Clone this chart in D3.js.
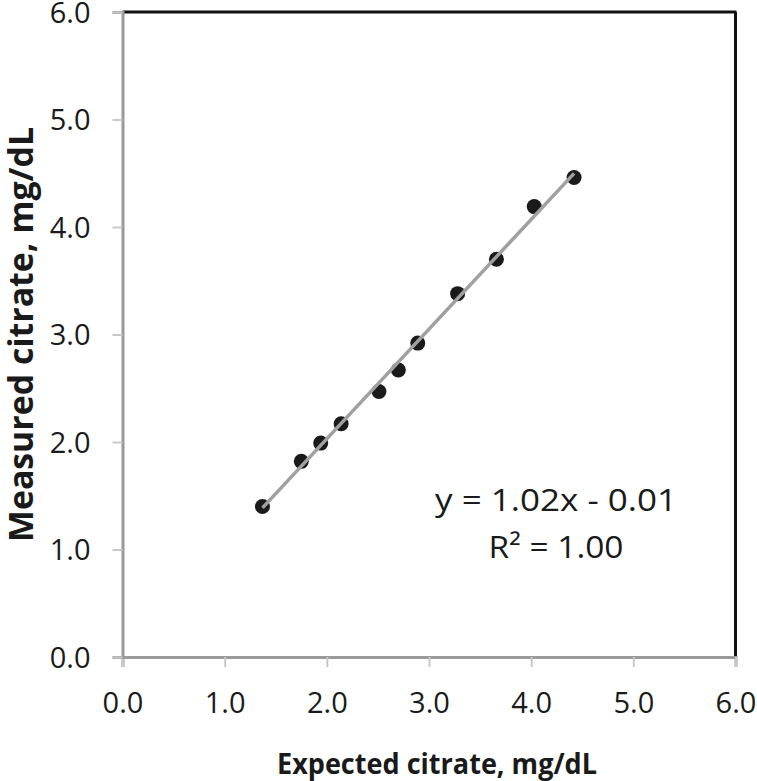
<!DOCTYPE html>
<html>
<head>
<meta charset="utf-8">
<script src="https://cdn.jsdelivr.net/npm/d3@7"></script>
<style>
  body { margin: 0; background: #fff; }
  svg { display: block; font-family: "Open Sans", sans-serif; }
</style>
</head>
<body>
<svg id="chart"></svg>
<script>
const width = 757;
const height = 781;

// measured vs expected citrate (mg/dL)
const expected = [1.37, 1.75, 1.94, 2.14, 2.51, 2.70, 2.89, 3.28, 3.66, 4.03, 4.42];
const measured = [1.40, 1.82, 1.99, 2.17, 2.47, 2.67, 2.92, 3.38, 3.70, 4.19, 4.46];
const tickValues = [0, 1, 2, 3, 4, 5, 6];
const slope = 1.02;
const intercept = -0.01;
const equationLines = ["y = 1.02x - 0.01", "R\u00B2 = 1.00"];

let svg = d3.select("#chart")
  .attr("width", width)
  .attr("height", height);

let x = d3.scaleLinear().domain([0, 6]).range([122.5, 735.5]);
let y = d3.scaleLinear().domain([0, 6]).range([657, 12]);

// frame: top and right in black
svg.append("line")
  .attr("x1", x(0)).attr("x2", x(6) + 1)
  .attr("y1", y(6)).attr("y2", y(6))
  .attr("stroke", "#111").attr("stroke-width", 3);
svg.append("line")
  .attr("x1", x(6)).attr("x2", x(6))
  .attr("y1", y(6)).attr("y2", y(0))
  .attr("stroke", "#111").attr("stroke-width", 3);

// axes
let xAxis = svg.append("g")
  .attr("transform", `translate(0,${y(0)})`)
  .call(d3.axisBottom(x).tickValues(tickValues).tickSize(10).tickPadding(25).tickFormat(d3.format(".1f")));
let yAxis = svg.append("g")
  .attr("transform", `translate(${x(0)},0)`)
  .call(d3.axisLeft(y).tickValues(tickValues).tickSize(10).tickPadding(22).tickFormat(d3.format(".1f")));

[xAxis, yAxis].forEach(g => {
  g.select(".domain").attr("stroke", "#9a9a9a").attr("stroke-width", 3);
  g.selectAll(".tick line").attr("stroke", "#c8c8c8").attr("stroke-width", 2);
  g.selectAll(".tick text")
    .attr("fill", "#1a1a1a")
    .style("font-family", "'Open Sans', sans-serif")
    .style("font-size", "29px");
});
xAxis.selectAll(".tick text").attr("dy", "0.71em");
yAxis.selectAll(".tick text").attr("dy", "0.36em");

// points
svg.selectAll(".dot")
  .data(expected.map((d, i) => [d, measured[i]]))
  .enter()
  .append("circle")
    .classed("dot", true)
    .attr("cx", d => x(d[0]))
    .attr("cy", d => y(d[1]))
    .attr("r", 7.5)
    .attr("fill", "#1a1a1a");

// trend line, drawn over the points
let x0 = d3.min(expected), x1 = d3.max(expected);
svg.append("line")
  .attr("x1", x(x0)).attr("y1", y(slope * x0 + intercept))
  .attr("x2", x(x1)).attr("y2", y(slope * x1 + intercept))
  .attr("stroke", "#a0a0a0")
  .attr("stroke-width", 3.5);

// equation
const eqWidths = [242, 135];
svg.selectAll(".eq")
  .data(equationLines)
  .enter()
  .append("text")
    .classed("eq", true)
    .attr("x", 556)
    .attr("y", (d, i) => 511 + i * 47)
    .attr("text-anchor", "middle")
    .attr("fill", "#1a1a1a")
    .attr("textLength", (d, i) => eqWidths[i])
    .attr("lengthAdjust", "spacingAndGlyphs")
    .style("font-size", "31px")
    .text(d => d);

// axis titles
svg.append("text")
  .attr("x", 437)
  .attr("y", 774)
  .attr("text-anchor", "middle")
  .attr("fill", "#1a1a1a")
  .attr("textLength", 320)
  .attr("lengthAdjust", "spacingAndGlyphs")
  .style("font-size", "28px")
  .style("font-weight", "bold")
  .text("Expected citrate, mg/dL");

svg.append("text")
  .attr("transform", `translate(33,${(y(0) + y(6)) / 2}) rotate(-90)`)
  .attr("text-anchor", "middle")
  .attr("fill", "#1a1a1a")
  .attr("textLength", 415)
  .attr("lengthAdjust", "spacingAndGlyphs")
  .style("font-size", "34px")
  .style("font-weight", "bold")
  .text("Measured citrate, mg/dL");
</script>
</body>
</html>
